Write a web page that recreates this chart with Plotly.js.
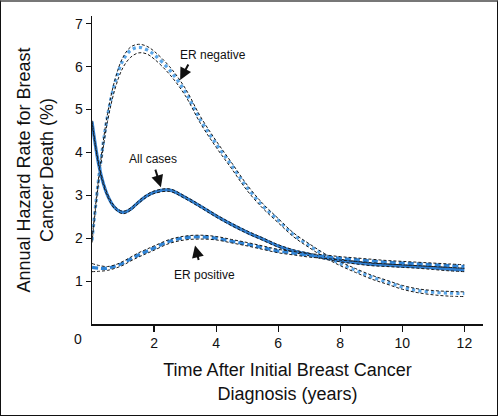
<!DOCTYPE html>
<html>
<head>
<meta charset="utf-8">
<script src="https://cdn.plot.ly/plotly-3.0.1.min.js"></script>
<style>
html,body{margin:0;padding:0;background:#fff;}
#wrap{position:relative;width:498px;height:416px;}
#chart{width:498px;height:416px;}
#frame{position:absolute;left:0;top:0;width:498px;height:416px;box-sizing:border-box;border:1px solid #111;border-top:2px solid #777;pointer-events:none;}
</style>
</head>
<body>
<div id="wrap"><div id="chart"></div><div id="frame"></div></div>
<script>
// Time after diagnosis (years)
const years = [0,0.25,0.5,0.75,1,1.25,1.5,1.75,2,2.5,3,3.5,4,4.5,5,5.5,6,6.5,7,7.5,8,8.5,9,9.5,10,10.5,11,11.5,12];

// ER negative: estimate and confidence limits (%)
const erNegEst   = [1.95,3.6,4.85,5.65,6.15,6.38,6.45,6.4,6.28,5.92,5.42,4.75,4.2,3.7,3.18,2.76,2.42,2.08,1.83,1.6,1.41,1.25,1.1,0.98,0.86,0.78,0.74,0.72,0.71];
const erNegUpper = [1.97,3.63,4.9,5.72,6.22,6.46,6.52,6.48,6.36,6.0,5.5,4.83,4.27,3.76,3.24,2.81,2.46,2.12,1.87,1.64,1.45,1.29,1.14,1.02,0.9,0.82,0.78,0.76,0.75];
const erNegLower = [1.9,3.52,4.72,5.5,5.98,6.22,6.32,6.3,6.18,5.82,5.33,4.67,4.12,3.62,3.11,2.7,2.36,2.03,1.78,1.55,1.36,1.2,1.05,0.93,0.81,0.73,0.68,0.65,0.64];

// All cases
const allEst   = [4.72,3.6,3.0,2.7,2.6,2.68,2.84,2.98,3.07,3.12,2.95,2.74,2.52,2.32,2.14,1.98,1.82,1.7,1.62,1.54,1.48,1.43,1.39,1.37,1.35,1.33,1.31,1.28,1.26];
const allUpper = [4.74,3.63,3.03,2.73,2.63,2.71,2.87,3.01,3.1,3.15,2.98,2.77,2.55,2.35,2.17,2.01,1.85,1.73,1.65,1.57,1.51,1.46,1.42,1.4,1.38,1.36,1.34,1.32,1.3];
const allLower = [4.68,3.57,2.97,2.67,2.57,2.65,2.81,2.95,3.04,3.09,2.92,2.71,2.49,2.29,2.11,1.95,1.79,1.67,1.59,1.51,1.45,1.4,1.36,1.34,1.32,1.3,1.27,1.24,1.22];

// ER positive
const erPosEst   = [1.32,1.3,1.3,1.35,1.42,1.52,1.61,1.69,1.77,1.93,2.01,2.03,2.0,1.93,1.86,1.78,1.7,1.65,1.6,1.57,1.53,1.5,1.47,1.44,1.42,1.4,1.38,1.36,1.34];
const erPosUpper = [1.41,1.36,1.34,1.38,1.46,1.56,1.66,1.74,1.82,1.97,2.05,2.07,2.04,1.97,1.9,1.82,1.74,1.69,1.64,1.61,1.57,1.54,1.51,1.48,1.46,1.44,1.42,1.4,1.38];
const erPosLower = [1.22,1.23,1.25,1.3,1.37,1.47,1.56,1.64,1.72,1.88,1.96,1.98,1.96,1.89,1.82,1.74,1.66,1.61,1.56,1.53,1.49,1.46,1.43,1.4,1.38,1.36,1.34,1.32,1.3];

const yTicks = [1,2,3,4,5,6,7];
const xTicks = [2,4,6,8,10,12];

const band = {color:'#1a1a1a', width:1, dash:'3px,2px'};

function est(y, line){ return {x:years, y:y, mode:'lines', line:Object.assign({shape:'spline'}, line), hoverinfo:'skip', showlegend:false}; }
function bnd(y){ return {x:years, y:y, mode:'lines', line:Object.assign({shape:'spline'}, band), hoverinfo:'skip', showlegend:false}; }

const traces = [
  est(erNegEst, {color:'#5aa6e8', width:3.2, dash:'dot'}),
  bnd(erNegUpper), bnd(erNegLower),
  est(allEst, {color:'#2f7fd2', width:3.2}),
  bnd(allUpper), bnd(allLower),
  est(erPosEst, {color:'#2f84d6', width:3.2, dash:'6px,3px'}),
  bnd(erPosUpper), bnd(erPosLower)
];

const tickFont = {family:'Liberation Sans, Arial, sans-serif', size:14, color:'#111'};
const titleFont = {family:'Liberation Sans, Arial, sans-serif', size:18, color:'#111'};
const noteFont = {family:'Liberation Sans, Arial, sans-serif', size:12, color:'#111'};

const layout = {
  width:498, height:416,
  margin:{l:92, r:15, t:16, b:92},
  paper_bgcolor:'#fff', plot_bgcolor:'#fff',
  xaxis:{range:[0,12.6], tickvals:xTicks, ticktext:xTicks.map(String), showline:true, linecolor:'#111', linewidth:1.5,
         ticks:'outside', ticklen:6, tickwidth:1.2, tickcolor:'#111', showgrid:false, zeroline:false, tickfont:tickFont,
         title:{text:'Time After Initial Breast Cancer<br>Diagnosis (years)', font:titleFont, standoff:13}},
  yaxis:{range:[0,7.18], tickvals:yTicks, ticktext:yTicks.map(String), showline:true, linecolor:'#111', linewidth:1.5,
         ticks:'outside', ticklen:5, tickwidth:1.2, tickcolor:'#111', showgrid:false, zeroline:false, tickfont:tickFont,
         title:{text:'Annual Hazard Rate for Breast<br>Cancer Death (%)', font:titleFont, standoff:16}},
  annotations:[
    {xref:'paper', yref:'paper', x:0, y:0, text:'0', showarrow:false, font:tickFont, xanchor:'center', yanchor:'middle', xshift:-14, yshift:-15},
    {x:2.84, y:5.69, text:'', showarrow:true, arrowhead:2, arrowsize:1.2, arrowwidth:2, arrowcolor:'#111', ax:9, ay:-17},
    {x:2.22, y:3.19, text:'', showarrow:true, arrowhead:2, arrowsize:1.2, arrowwidth:2, arrowcolor:'#111', ax:-6, ay:-19},
    {x:3.32, y:1.83, text:'', showarrow:true, arrowhead:2, arrowsize:1.2, arrowwidth:2, arrowcolor:'#111', ax:4, ay:16},
    {x:3.9, y:6.28, text:'ER negative', showarrow:false, font:noteFont},
    {x:1.96, y:3.84, text:'All cases', showarrow:false, font:noteFont},
    {x:3.64, y:1.14, text:'ER positive', showarrow:false, font:noteFont}
  ]
};

Plotly.newPlot('chart', traces, layout, {displayModeBar:false, staticPlot:true});
</script>
</body>
</html>
